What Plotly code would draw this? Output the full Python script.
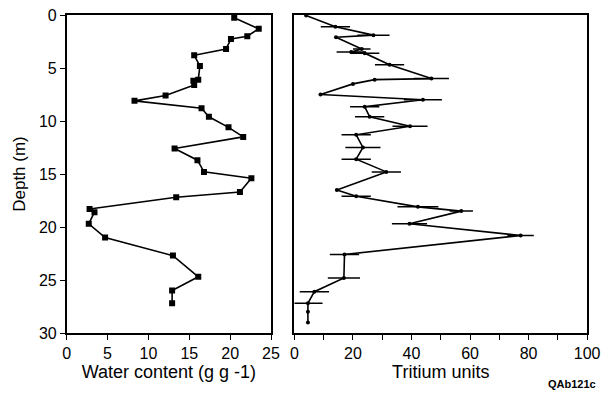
import plotly.graph_objects as go

# Left panel: water content profile
water_depth = [0.25, 1.3, 2.0, 2.26, 3.2, 3.8, 4.8, 6.1, 6.2, 6.6, 7.6, 8.1, 8.8, 9.6, 10.6,
               11.5, 12.6, 13.7, 14.8, 15.4, 16.7, 17.2, 18.3, 18.6, 19.7, 21.0, 22.7, 24.7, 26.0, 27.2]
water_content = [20.5, 23.5, 22.1, 20.1, 19.5, 15.6, 16.3, 16.1, 15.5, 15.6, 12.1, 8.3, 16.5, 17.4, 19.8,
                 21.6, 13.2, 16.0, 16.8, 22.6, 21.2, 13.4, 2.8, 3.4, 2.7, 4.7, 13.0, 16.1, 12.9, 12.9]

# Right panel: tritium profile
tritium_depth = [0.05, 1.1, 1.9, 2.1, 3.2, 3.5, 3.6, 4.7, 6.0, 6.1, 6.5, 7.5, 8.0, 8.65, 9.6, 10.5,
                 11.3, 12.5, 13.6, 14.8, 16.5, 17.1, 18.1, 18.5, 19.7, 20.8, 22.6, 24.8, 26.1, 27.2, 28.0, 29.0]
tritium = [4.0, 14.0, 27.0, 14.2, 23.0, 19.4, 24.0, 32.5, 46.8, 27.4, 20.0, 8.9, 43.9, 24.0, 25.7, 39.5,
           21.1, 23.4, 21.1, 31.4, 14.5, 21.1, 42.2, 57.0, 39.3, 77.3, 17.1, 16.9, 6.8, 4.6, 4.6, 4.6]
tritium_err = [0, 5, 5.5, 0, 3, 5, 5, 5, 6, 0, 0, 0, 6.5, 5, 5, 6,
               5, 6, 5, 5, 0, 5, 7, 4, 6, 4.5, 5, 5.5, 5, 5, 0, 0]

depth_ticks = [0, 5, 10, 15, 20, 25, 30]
water_ticks = [0, 5, 10, 15, 20, 25]
tritium_tickvals = [0, 10, 20, 30, 40, 50, 60, 70, 80, 90, 100]
tritium_ticktext = ["0", "", "20", "", "40", "", "60", "", "80", "", "100"]

FONT = "Liberation Sans, Arial, Helvetica, sans-serif"

fig = go.Figure()
fig.add_trace(go.Scatter(
    x=water_content, y=water_depth, mode="lines+markers",
    line=dict(color="black", width=1.6),
    marker=dict(symbol="square", size=6, color="black"),
    xaxis="x", yaxis="y", showlegend=False))
fig.add_trace(go.Scatter(
    x=tritium, y=tritium_depth, mode="lines+markers",
    line=dict(color="black", width=1.6),
    marker=dict(symbol="circle", size=4, color="black"),
    error_x=dict(type="data", array=tritium_err, visible=True, color="black", thickness=1.5, width=0),
    xaxis="x2", yaxis="y2", showlegend=False))

axis_common = dict(showline=True, linecolor="black", linewidth=1.5, mirror=True,
                   showgrid=False, zeroline=False, ticks="outside", ticklen=5,
                   tickcolor="black", tickwidth=1.2,
                   tickfont=dict(family=FONT, size=16, color="black"))

fig.update_layout(
    width=609, height=397,
    margin=dict(l=0, r=0, t=15, b=64),
    paper_bgcolor="white", plot_bgcolor="white",
    font=dict(family=FONT, size=16, color="black"),
    xaxis=dict(domain=[0.1095, 0.445], range=[0, 25], tickvals=water_ticks,
               title=dict(text="Water content (g g -1)", standoff=4,
                          font=dict(family=FONT, size=18)),
               automargin=False, **axis_common),
    yaxis=dict(domain=[0, 1], range=[30, 0], tickvals=depth_ticks,
               title=dict(text="Depth (m)", standoff=9, font=dict(family=FONT, size=17)),
               automargin=False, **axis_common),
    xaxis2=dict(domain=[0.4835, 0.964], range=[0, 100], tickvals=tritium_tickvals,
                ticktext=tritium_ticktext, anchor="y2",
                title=dict(text="Tritium units", standoff=4, font=dict(family=FONT, size=18)),
                automargin=False, **axis_common),
    yaxis2=dict(domain=[0, 1], range=[30, 0], anchor="x2", showline=True, linecolor="black",
                linewidth=1.5, mirror=True, showgrid=False, zeroline=False,
                showticklabels=False, ticks="", automargin=False),
    annotations=[dict(text="<b>QAb121c</b>", x=0.982, y=-0.16, xref="paper", yref="paper",
                      xanchor="right", yanchor="middle", showarrow=False,
                      font=dict(family=FONT, size=11, color="black"))],
)

fig.write_html("out.html", config={"displayModeBar": False},
               post_script="document.body.style.margin='0';")
